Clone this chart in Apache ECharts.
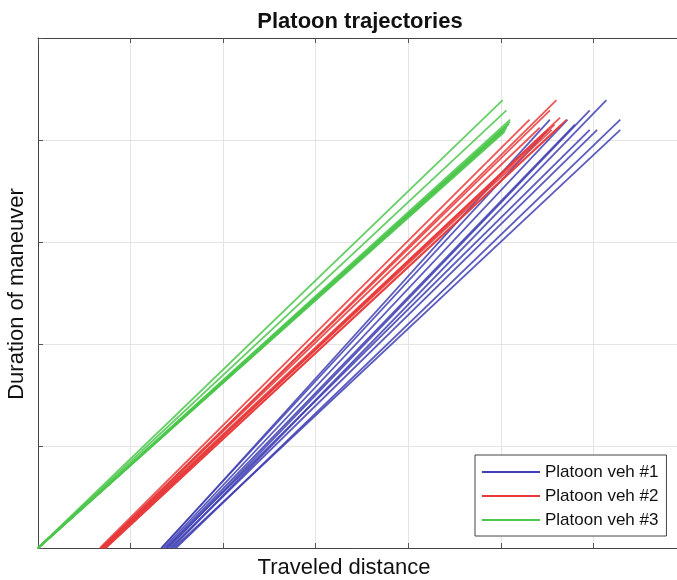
<!DOCTYPE html>
<html><head><meta charset="utf-8">
<script src="https://cdn.jsdelivr.net/npm/echarts@6/dist/echarts.min.js"></script>
<style>html,body{margin:0;padding:0;background:#fff}#c{width:677px;height:580px}</style>
</head><body><div id="c"></div>
<script>
// axis ranges (no tick labels in the original)
const xTicks = [0, 1, 2, 3, 4, 5, 6, 7];
const yTicks = [0, 1, 2, 3, 4, 5];
const seriesNames = ['Platoon veh #1', 'Platoon veh #2', 'Platoon veh #3'];

// Platoon veh #1 (blue) trajectories: start on x axis, end near top
const veh1StartX = [1.33, 1.34, 1.36, 1.38, 1.39, 1.41, 1.43, 1.45, 1.47, 1.49];
const veh1EndX   = [5.51, 5.53, 5.72, 5.80, 5.96, 5.96, 6.04, 6.14, 6.29, 6.29];
const veh1EndY   = [4.10, 4.20, 4.20, 4.15, 4.10, 4.29, 4.10, 4.39, 4.10, 4.20];

// Platoon veh #2 (red)
const veh2StartX = [0.67, 0.68, 0.69, 0.69, 0.70, 0.71, 0.71, 0.72, 0.73, 0.73];
const veh2EndX   = [5.31, 5.42, 5.48, 5.53, 5.55, 5.58, 5.60, 5.64, 5.66, 5.71];
const veh2EndY   = [4.20, 4.12, 4.08, 4.29, 4.10, 4.15, 4.39, 4.22, 4.15, 4.20];

// Platoon veh #3 (green)
const veh3StartX = [0, 0, 0, 0, 0, 0, 0, 0, 0, 0];
const veh3EndX   = [5.02, 5.06, 5.10, 5.10, 5.09, 5.08, 5.06, 5.06, 5.05, 5.04];
const veh3EndY   = [4.39, 4.29, 4.20, 4.18, 4.16, 4.15, 4.13, 4.12, 4.10, 4.08];

const colors = ['#4040b4', '#e83a3a', '#4cc74c'];
const vehicles = [
  [veh1StartX, veh1EndX, veh1EndY],
  [veh2StartX, veh2EndX, veh2EndY],
  [veh3StartX, veh3EndX, veh3EndY]
];

const series = [];
vehicles.forEach((v, k) => {
  const [sx, ex, ey] = v;
  for (let i = 0; i < sx.length; i++) {
    series.push({
      name: seriesNames[k],
      type: 'line',
      symbol: 'none',
      silent: true,
      animation: false,
      lineStyle: { color: colors[k], width: 1.8, opacity: 0.85 },
      itemStyle: { color: colors[k] },
      data: [[sx[i], 0], [ex[i], ey[i]]]
    });
  }
});

const font = '"Liberation Sans", Arial, Helvetica, sans-serif';
const axisCommon = {
  type: 'value',
  interval: 1,
  axisLabel: { show: false },
  axisTick: { show: true, inside: true, length: 5, lineStyle: { color: '#555' } },
  axisLine: { show: true, lineStyle: { color: '#444', width: 1 } }
};

const chart = echarts.init(document.getElementById('c'), null, { renderer: 'canvas' });
chart.setOption({
  animation: false,
  backgroundColor: '#fff',
  title: {
    text: 'Platoon trajectories',
    left: 355, top: 6, textAlign: 'center',
    textStyle: { fontFamily: font, fontSize: 22, fontWeight: 'bold', color: '#111' }
  },
  grid: { left: 38, top: 38, width: 648, height: 510, containLabel: false, outerBoundsMode: 'none' },
  xAxis: [
    Object.assign({}, axisCommon, {
      position: 'bottom', min: xTicks[0], max: xTicks[xTicks.length - 1],
      splitLine: { show: true, lineStyle: { color: '#e4e4e4', width: 1 } }
    }),
    Object.assign({}, axisCommon, {
      position: 'top', min: xTicks[0], max: xTicks[xTicks.length - 1],
      splitLine: { show: false }
    })
  ],
  yAxis: [
    Object.assign({}, axisCommon, {
      position: 'left', min: yTicks[0], max: yTicks[yTicks.length - 1],
      splitLine: { show: true, lineStyle: { color: '#e4e4e4', width: 1 } }
    })
  ],
  legend: {
    orient: 'vertical',
    left: 475, top: 455,
    data: seriesNames,
    icon: 'rect',
    padding: [8, 8, 7, 7],
    itemWidth: 58, itemHeight: 2, itemGap: 6,
    backgroundColor: '#fff',
    borderColor: '#444', borderWidth: 1,
    selectedMode: false,
    textStyle: { fontFamily: font, fontSize: 17, color: '#111', lineHeight: 18 }
  },
  graphic: [
    {
      type: 'text',
      style: { text: 'Traveled distance', font: '22px ' + font, fill: '#111', textAlign: 'center', textVerticalAlign: 'middle' },
      position: [344, 568]
    },
    {
      type: 'text',
      style: { text: 'Duration of maneuver', font: '22px ' + font, fill: '#111', textAlign: 'center', textVerticalAlign: 'middle' },
      position: [17, 294], rotation: Math.PI / 2
    }
  ],
  series: series
});
</script></body></html>
